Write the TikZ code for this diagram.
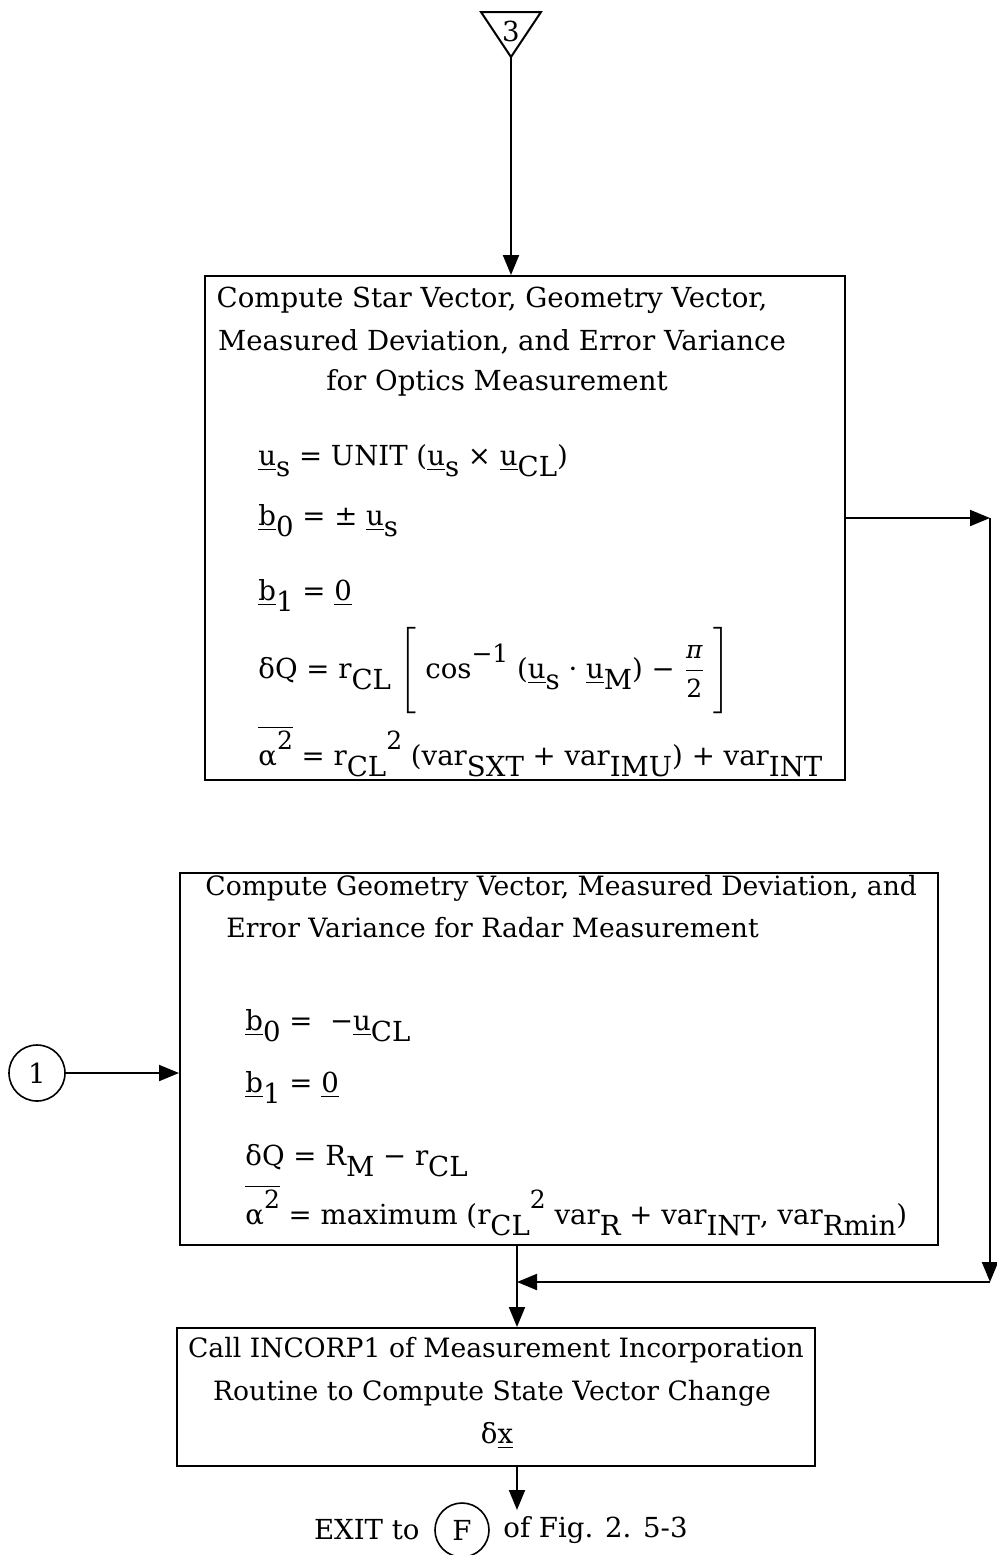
\documentclass[tikz,border=0pt]{standalone}
\usepackage{amsmath}
\usepackage{fontspec}
\setmainfont{DejaVu Serif}
\usetikzlibrary{arrows.meta}
\newcommand\dn[1]{\raisebox{-0.42em}{#1}}
\newcommand\up[1]{\raisebox{0.55em}{\fontsize{12.5}{14}\selectfont #1}}
\newcommand\vu[1]{\underline{#1}}
\newcommand\fr[1]{\hbox{\fontsize{12.5}{14}\selectfont #1}}
\newcommand\halfpi{$\dfrac{\fr{\itshape π}}{\fr{2}}$}
\begin{document}
\begin{tikzpicture}[x=0.5pt,y=-0.5pt,
  box/.style={draw,line width=1pt,inner sep=0pt},
  conn/.style={line width=1pt},
  arr/.style={-{Triangle[length=10pt,width=8pt]}},
  txt/.style={font=\fontsize{13.8}{16}\selectfont,inner sep=0pt},
  stxt/.style={font=\fontsize{13.3}{16}\selectfont,inner sep=0pt},
  fml/.style={txt,anchor=base west}]
\useasboundingbox (0,0) rectangle (997,1555);
% top connector
\coordinate (tri) at (511,57);
\draw[line width=1pt] (481,12) -- (541,12) -- (tri) -- cycle;
\node[txt] (t3) at (511,31) {3};
% boxes
\node[box,minimum width=320pt,minimum height=252pt] (top) at (525,528) {};
\node[box,minimum width=379pt,minimum height=186pt] (mid) at (559,1059) {};
\node[box,minimum width=319pt,minimum height=69pt] (bot) at (496,1397) {};
% top box text
\node[txt] (a1) at (492,300) {Compute Star Vector, Geometry Vector,};
\node[txt] (a2) at (502,342) {Measured Deviation, and Error Variance};
\node[txt] (a3) at (497,383) {for Optics Measurement};
\node[fml] (f1) at (258,465) {\vu{u}\dn{s} = UNIT (\vu{u}\dn{s} × \vu{u}\dn{CL})};
\node[fml] (f2) at (258,525) {\vu{b}\dn{0} = ± \vu{u}\dn{s}};
\node[fml] (f3) at (258,600) {\vu{b}\dn{1} = \vu{0}};
\node[fml] (f4) at (258,678) {δQ = r\dn{CL} $\Bigg[$ cos\up{−1} (\vu{u}\dn{s} · \vu{u}\dn{M}) − \halfpi\ $\Bigg]$};
\node[fml] (f5) at (258,765) {$\overline{\hbox{α\up{2}}}$ = r\dn{CL}\up{2} (var\dn{SXT} + var\dn{IMU}) + var\dn{INT}};
% mid box text
\node[stxt,anchor=west] (b1) at (205,888) {Compute Geometry Vector, Measured Deviation, and};
\node[stxt,anchor=west] (b2) at (226,928) {Error Variance for Radar Measurement};
\node[fml] (g1) at (245,1030) {\vu{b}\dn{0} = \ −\vu{u}\dn{CL}};
\node[fml] (g2) at (245,1092) {\vu{b}\dn{1} = \vu{0}};
\node[fml] (g3) at (245,1165) {δQ = R\dn{M} − r\dn{CL}};
\node[fml] (g4) at (245,1224) {$\overline{\hbox{α\up{2}}}$ = maximum (r\dn{CL}\up{2} var\dn{R} + var\dn{INT}, var\dn{Rmin})};
% bottom box text
\node[stxt] (c1t) at (496,1350) {Call INCORP1 of Measurement Incorporation};
\node[stxt] (c2t) at (492,1393) {Routine to Compute State Vector Change};
\node[txt] (c3t) at (497,1436) {δ\vu{x}};
% entry circle
\node[circle,draw,line width=0.8pt,minimum size=28pt,txt] (one) at (37,1073) {1};
% exit
\coordinate (ex) at (517,1510);
\node[txt,anchor=east] (exit) at (420,1530) {EXIT to};
\node[circle,draw,line width=0.8pt,minimum size=27pt,txt] (F) at (462,1530) {F};
\node[txt,anchor=west] (fig) at (503,1530) {of Fig. 2. 5-3};
% routing points
\coordinate (r1) at (990,518);
\coordinate (r2) at (990,1282);
\coordinate (j) at (517,1282);
% connectors
\draw[conn,arr] (tri) -- (tri |- top.north);
\draw[conn,arr] (top.east |- r1) -- (r1);
\draw[conn,arr] (r1) -- (r2);
\draw[conn,arr] (r2) -- (j);
\draw[conn,arr] (j |- mid.south) -- (j |- bot.north);
\draw[conn,arr] (one) -- (one -| mid.west);
\draw[conn,arr] (ex |- bot.south) -- (ex);
\end{tikzpicture}
\end{document}
